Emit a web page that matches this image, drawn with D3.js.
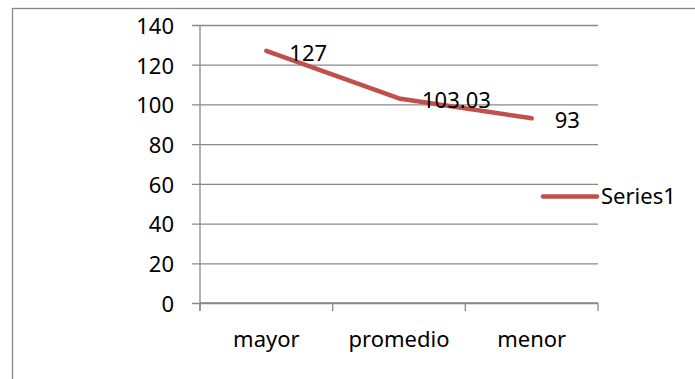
<!DOCTYPE html>
<html>
<head>
<meta charset="utf-8">
<script src="https://cdn.jsdelivr.net/npm/d3@7"></script>
<style>
  html, body { margin: 0; padding: 0; background: #fff; }
  svg { display: block; }
  text { font-family: "Noto Sans", sans-serif; fill: #000; }
</style>
</head>
<body>
<svg id="chart" width="695" height="379"></svg>
<script>
// Series data
const categories = ["mayor", "promedio", "menor"];
const values = [127, 103.03, 93];
const valueLabels = ["127", "103.03", "93"];
const yTicks = [0, 20, 40, 60, 80, 100, 120, 140];
const seriesName = "Series1";

const plot = { left: 200, right: 598, top: 25, bottom: 303 };
const gridColor = "#898989";
const lineColor = "#C0504D";
const fontSize = 22;

const svg = d3.select("#chart");

// Outer chart frame
svg.append("rect")
  .attr("x", 12.5).attr("y", 8.5)
  .attr("width", 720).attr("height", 420)
  .attr("fill", "none")
  .attr("stroke", gridColor)
  .attr("stroke-width", 1.3);

const x = d3.scaleBand().domain(categories).range([plot.left, plot.right]).padding(0);
const y = d3.scaleLinear().domain([0, 140]).range([plot.bottom, plot.top]);

// Horizontal gridlines with left tick marks
const yAxis = d3.axisLeft(y)
  .tickValues(yTicks)
  .tickSize(-(plot.right - plot.left))
  .tickPadding(0)
  .tickFormat(d3.format("d"));

const gy = svg.append("g")
  .attr("transform", `translate(${plot.left},0)`)
  .call(yAxis);
gy.select(".domain").remove();
gy.selectAll(".tick line")
  .attr("x1", -8)
  .attr("stroke", gridColor)
  .attr("stroke-width", 1.3);
gy.selectAll(".tick text")
  .attr("x", -26)
  .attr("dy", "0.38em")
  .attr("font-size", fontSize)
  .attr("text-anchor", "end")
  .style("font-family", "'Noto Sans', sans-serif")
  .style("fill", "#000");

// Vertical value axis line
svg.append("line")
  .attr("x1", plot.left).attr("x2", plot.left)
  .attr("y1", plot.top).attr("y2", plot.bottom + 8)
  .attr("stroke", gridColor)
  .attr("stroke-width", 1.3);

// Category axis with boundary ticks
const bounds = categories.map(c => x(c)).concat([plot.right]);
svg.append("line")
  .attr("x1", plot.left).attr("x2", plot.right)
  .attr("y1", plot.bottom).attr("y2", plot.bottom)
  .attr("stroke", gridColor).attr("stroke-width", 1.3);
svg.selectAll(".cat-tick").data(bounds).enter().append("line")
  .attr("class", "cat-tick")
  .attr("x1", d => d).attr("x2", d => d)
  .attr("y1", plot.bottom).attr("y2", plot.bottom + 8)
  .attr("stroke", gridColor).attr("stroke-width", 1.3);
svg.selectAll(".cat-label").data(categories).enter().append("text")
  .attr("class", "cat-label")
  .attr("x", d => x(d) + x.bandwidth() / 2)
  .attr("y", 347)
  .attr("text-anchor", "middle")
  .attr("font-size", fontSize)
  .text(d => d);

// Series line
const pts = categories.map((c, i) => [x(c) + x.bandwidth() / 2, y(values[i])]);
svg.append("path")
  .datum(pts)
  .attr("d", d3.line())
  .attr("fill", "none")
  .attr("stroke", lineColor)
  .attr("stroke-width", 4.5)
  .attr("stroke-linecap", "round")
  .attr("stroke-linejoin", "round");

// Data labels, right of each point
svg.selectAll(".val-label").data(pts).enter().append("text")
  .attr("class", "val-label")
  .attr("x", d => d[0] + 23)
  .attr("y", d => d[1] + 10)
  .attr("font-size", fontSize)
  .text((d, i) => valueLabels[i]);

// Legend
svg.append("line")
  .attr("x1", 543).attr("x2", 597)
  .attr("y1", 196.5).attr("y2", 196.5)
  .attr("stroke", lineColor)
  .attr("stroke-width", 4.5)
  .attr("stroke-linecap", "round");
svg.append("text")
  .attr("x", 601).attr("y", 204)
  .attr("font-size", fontSize)
  .text(seriesName);
</script>
</body>
</html>
